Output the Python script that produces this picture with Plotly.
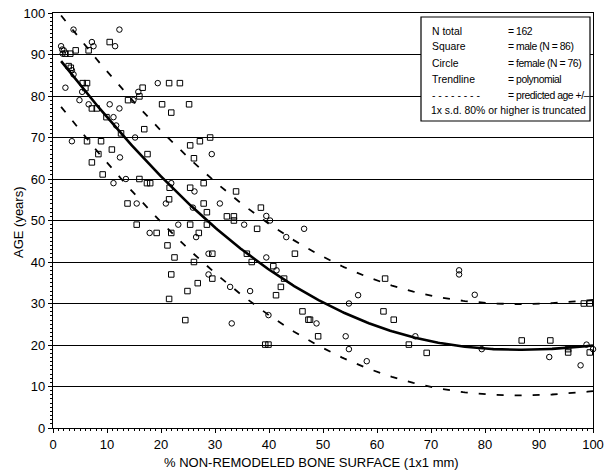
import numpy as np
import plotly.graph_objects as go

# ---- data ----
male_x = [2.3, 3.2, 4.2, 6.6, 10.5, 2.9, 3.3, 5.5, 6.3, 6.0, 7.2, 8.1, 9.9, 12.6, 13.9, 16.0, 16.6,
          21.5, 23.5, 20.2, 21.9, 25.2, 16.9, 6.3, 8.9, 10.9, 8.4, 17.5, 25.4, 29.1, 27.2, 26.1, 7.2,
          9.2, 16.0, 17.4, 18.0, 21.6, 25.4, 27.9, 33.9, 21.5, 13.8, 27.9, 28.5, 32.2, 33.5, 33.5,
          15.5, 25.4, 28.5, 19.2, 21.9, 27.0, 21.2, 22.5, 26.1, 21.9, 24.9, 26.8, 21.5, 38.5, 37.8,
          44.8, 29.5, 35.9, 36.8, 40.8, 42.8, 29.5, 42.2, 41.3, 24.5, 46.2, 47.3, 47.6, 49.1, 39.3,
          39.9, 61.5, 61.2, 63.1, 65.9, 69.2, 86.8, 92.1, 95.4, 95.4, 99.4, 98.3, 99.4]
male_y = [90.2, 90.2, 91.0, 91.0, 93.0, 87.2, 86.8, 83.1, 83.1, 81.9, 77.0, 77.0, 74.9, 71.0, 79.0,
          79.9, 82.0, 83.1, 83.1, 78.0, 76.0, 78.0, 72.0, 69.1, 69.1, 67.1, 66.0, 66.0, 68.1, 70.0,
          69.1, 65.0, 64.0, 61.1, 60.0, 59.0, 59.0, 57.9, 57.9, 59.0, 57.0, 55.1, 54.1, 54.1, 52.0,
          51.0, 51.0, 50.0, 49.0, 49.0, 49.0, 47.0, 47.0, 47.0, 44.0, 41.1, 40.0, 37.0, 33.0, 34.9,
          31.1, 53.1, 48.0, 42.0, 42.0, 42.0, 40.0, 39.0, 36.0, 36.0, 34.0, 32.0, 26.0, 28.1, 26.1,
          26.1, 22.1, 20.1, 20.1, 36.0, 28.1, 26.1, 20.1, 18.1, 21.1, 21.1, 19.0, 18.2, 18.2, 30.0,
          30.0]

female_x = [3.8, 12.3, 1.5, 1.7, 2.0, 1.8, 7.2, 7.5, 11.5, 3.5, 3.8, 5.4, 2.3, 4.9, 6.6, 10.5, 12.3,
            11.2, 11.7, 14.9, 15.8, 19.4, 15.2, 3.5, 12.4, 29.4, 11.2, 13.5, 21.9, 26.2, 20.9, 15.5,
            25.9, 30.9, 23.2, 17.9, 26.5, 39.5, 40.2, 35.4, 46.5, 43.2, 28.8, 39.5, 41.4, 28.8, 32.8,
            36.5, 33.1, 39.9, 48.8, 56.5, 54.8, 54.2, 54.8, 58.1, 67.1, 75.2, 75.2, 78.1, 79.4, 91.9,
            98.8, 100.0, 97.7]
female_y = [96.0, 96.0, 92.0, 91.2, 91.0, 90.2, 93.0, 92.0, 92.0, 86.2, 85.2, 81.0, 82.0, 79.0, 78.0,
            78.0, 77.0, 74.9, 72.9, 79.0, 81.0, 83.1, 70.0, 69.1, 65.2, 66.0, 59.0, 60.0, 59.0, 57.0,
            54.1, 54.1, 53.1, 54.1, 49.0, 47.0, 46.0, 51.1, 50.0, 49.0, 48.0, 46.0, 42.0, 41.1, 38.0,
            37.0, 34.0, 33.0, 25.2, 27.2, 25.2, 32.0, 30.0, 22.1, 19.0, 16.1, 22.1, 38.0, 37.0, 32.1,
            19.0, 17.1, 20.1, 19.0, 15.1]

# polynomial trendline, points
trend_x = [1.5, 6.9, 12.8, 20.5, 27.9, 36.5, 42.0, 50.0, 60.5, 64.2, 71.6, 79.0, 88.3, 100.0]
trend_y = [88.8, 79.0, 70.9, 60.1, 50.5, 41.4, 37.2, 30.1, 24.1, 22.5, 20.3, 19.3, 19.3, 19.7]
sd = 11.0  # predicted age +/- 1 s.d.

x_ticks = list(range(0, 101, 10))
y_ticks = list(range(0, 101, 10))

legend_labels = ["N total", "Square", "Circle", "Trendline", "- - - - - - - -"]
legend_values = ["= 162", "= male (N = 86)", "= female (N = 76)", "= polynomial",
                 "= predicted age +/\u2013"]
legend_note = "1x s.d. 80% or higher is truncated"

# ---- figure ----
coef = np.polyfit(trend_x, trend_y, 4)
xs = np.linspace(trend_x[0], trend_x[-1], 300)
ys = np.polyval(coef, xs)

FONT = "Liberation Sans, Arial, sans-serif"
W, H = 606, 475
L, R, T, B = 53, 13, 13, 47
PW, PH = W - L - R, H - T - B


def px_to_paper(px, py):
    return (px - L) / PW, (H - B - py) / PH


fig = go.Figure()
fig.add_trace(go.Scatter(x=xs, y=ys + sd, mode="lines",
                         line=dict(color="black", width=1.8, dash="7px,11px"), hoverinfo="skip"))
fig.add_trace(go.Scatter(x=xs, y=ys - sd, mode="lines",
                         line=dict(color="black", width=1.8, dash="7px,11px"), hoverinfo="skip"))
fig.add_trace(go.Scatter(x=xs, y=ys, mode="lines",
                         line=dict(color="black", width=2.6), hoverinfo="skip"))
fig.add_trace(go.Scatter(x=male_x, y=male_y, mode="markers", cliponaxis=False,
                         marker=dict(symbol="square-open", size=5.5, color="black",
                                     line=dict(width=1, color="black"))))
fig.add_trace(go.Scatter(x=female_x, y=female_y, mode="markers", cliponaxis=False,
                         marker=dict(symbol="circle-open", size=5.5, color="black",
                                     line=dict(width=1, color="black"))))

# legend box
bx0, by0 = px_to_paper(421, 121)
bx1, by1 = px_to_paper(590, 17)
fig.add_shape(type="rect", xref="paper", yref="paper", x0=bx0, x1=bx1, y0=by0, y1=by1,
              fillcolor="white", line=dict(color="black", width=1.2), layer="above")
LFS = 10.4
rows_py = [31, 47, 63, 79, 95]
for lab, val, py in zip(legend_labels, legend_values, rows_py):
    xa, ya = px_to_paper(430, py)
    xb, _ = px_to_paper(506, py)
    fig.add_annotation(xref="paper", yref="paper", x=xa, y=ya, text=lab,
                       showarrow=False, xanchor="left", yanchor="middle",
                       font=dict(family=FONT, size=LFS, color="black"))
    fig.add_annotation(xref="paper", yref="paper", x=xb, y=ya,
                       text='<span style="letter-spacing:-0.45px">' + val + "</span>",
                       showarrow=False, xanchor="left", yanchor="middle",
                       font=dict(family=FONT, size=LFS, color="black"))
xn, yn = px_to_paper(429, 111)
fig.add_annotation(xref="paper", yref="paper", x=xn, y=yn, text=legend_note,
                   showarrow=False, xanchor="left", yanchor="middle",
                   font=dict(family=FONT, size=LFS, color="black"))

# axis titles
xt, yt = px_to_paper(311, 462)
fig.add_annotation(xref="paper", yref="paper", x=xt, y=yt, text="% NON-REMODELED BONE SURFACE (1x1 mm)",
                   showarrow=False, xanchor="center", yanchor="middle",
                   font=dict(family=FONT, size=13, color="black"))
xt2, yt2 = px_to_paper(18, 222)
fig.add_annotation(xref="paper", yref="paper", x=xt2, y=yt2, text="AGE (years)", textangle=-90,
                   showarrow=False, xanchor="center", yanchor="middle",
                   font=dict(family=FONT, size=13, color="black"))

axis_common = dict(range=[0, 100], showline=True, linecolor="black", linewidth=1.2, mirror=True,
                   ticks="outside", ticklen=4, tickcolor="black", zeroline=False, automargin=False,
                   tickfont=dict(family=FONT, size=13, color="black"),
                   minor=dict(dtick=1, ticks="outside", ticklen=2, tickcolor="black", showgrid=False))
fig.update_xaxes(**axis_common, tickvals=x_ticks, showgrid=False)
fig.update_yaxes(**axis_common, tickvals=y_ticks, showgrid=True, gridcolor="black", gridwidth=1)
fig.update_layout(width=W, height=H, margin=dict(l=L, r=R, t=T, b=B),
                  plot_bgcolor="white", paper_bgcolor="white", showlegend=False,
                  font=dict(family=FONT, color="black"))
fig.write_html("out.html", config={"displayModeBar": False},
               post_script="document.body.style.margin='0px';document.body.style.overflow='hidden';")
